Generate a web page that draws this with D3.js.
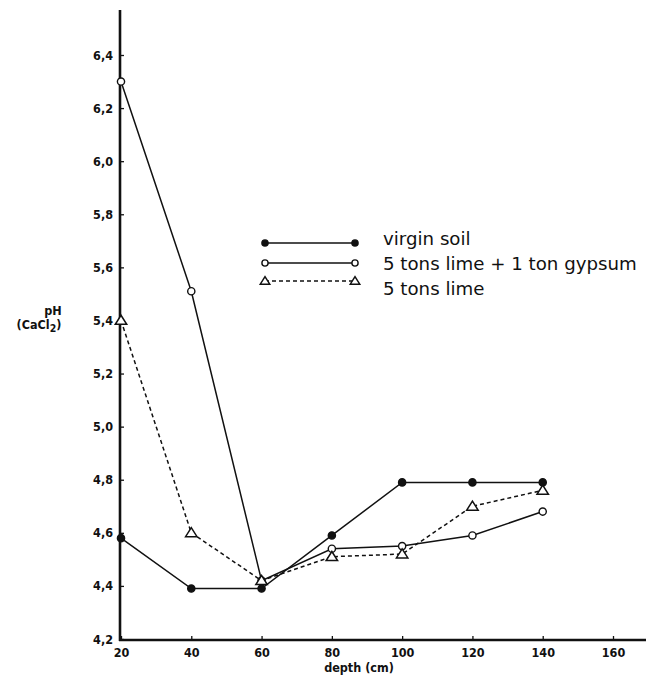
<!DOCTYPE html>
<html>
<head>
<meta charset="utf-8">
<script src="https://cdn.jsdelivr.net/npm/d3@7"></script>
<style>
  html, body { margin: 0; padding: 0; background: #fff; }
  svg { display: block; }
  .tick text { font-family: "DejaVu Sans Condensed", "DejaVu Sans", sans-serif; font-weight: bold; font-size: 12.5px; fill: #111; }
</style>
</head>
<body>
<script>
// Soil pH (CaCl2) by depth under three treatments
const depths = [20, 40, 60, 80, 100, 120, 140];
const virginSoil = [4.58, 4.39, 4.39, 4.59, 4.79, 4.79, 4.79];
const limeGypsum = [6.30, 5.51, 4.42, 4.54, 4.55, 4.59, 4.68];
const limeOnly = [5.40, 4.60, 4.42, 4.51, 4.52, 4.70, 4.76];
const xTicks = [20, 40, 60, 80, 100, 120, 140, 160];
const yTicks = [4.2, 4.4, 4.6, 4.8, 5.0, 5.2, 5.4, 5.6, 5.8, 6.0, 6.2, 6.4];
const seriesNames = ["virgin soil", "5 tons lime + 1 ton gypsum", "5 tons lime"];

const W = 656, H = 683;
const svg = d3.select("body").append("svg").attr("width", W).attr("height", H);

const x = d3.scaleLinear().domain([20, 160]).range([121, 613]);
const y = d3.scaleLinear().domain([4.2, 6.4]).range([639, 55]);
const x0 = 120, yBase = 640;
const ink = "#111";
const comma = v => d3.format(".1f")(v).replace(".", ",");
const labelFont = "DejaVu Sans Condensed, DejaVu Sans, sans-serif";

// axes
const yAxis = svg.append("g").attr("transform", `translate(${x0},0)`)
  .call(d3.axisLeft(y).tickValues(yTicks).tickSizeInner(-4).tickSizeOuter(0).tickPadding(7).tickFormat(comma));
yAxis.select(".domain").remove();
yAxis.selectAll(".tick line").attr("stroke", ink).attr("stroke-width", 1.3);

const xAxis = svg.append("g").attr("transform", `translate(0,${yBase})`)
  .call(d3.axisBottom(x).tickValues(xTicks).tickSizeInner(-4).tickSizeOuter(0).tickPadding(8).tickFormat(d3.format("d")));
xAxis.select(".domain").remove();
xAxis.selectAll(".tick line").attr("stroke", ink).attr("stroke-width", 1.3);

svg.append("line").attr("x1", x0).attr("x2", x0).attr("y1", 10).attr("y2", yBase + 1)
  .attr("stroke", ink).attr("stroke-width", 2.6);
svg.append("line").attr("x1", x0 - 1).attr("x2", 646).attr("y1", yBase).attr("y2", yBase)
  .attr("stroke", ink).attr("stroke-width", 2.6);

// axis titles
svg.append("text").attr("x", 359).attr("y", 672).attr("text-anchor", "middle")
  .style("font-family", labelFont).style("font-weight", "bold")
  .style("font-size", "12.5px").attr("fill", ink).text("depth (cm)");
const yt = svg.append("text").attr("text-anchor", "middle")
  .style("font-family", labelFont).style("font-weight", "bold")
  .style("font-size", "12.5px").attr("fill", ink);
yt.append("tspan").attr("x", 53).attr("y", 315).text("pH");
const t2 = yt.append("tspan").attr("x", 39).attr("y", 329).text("(CaCl");
t2.append("tspan").attr("dy", 3).style("font-size", "10.5px").text("2");
t2.append("tspan").attr("dy", -3).text(")");

// series
const line = d3.line().x((d, i) => x(depths[i])).y(d => y(d));
const series = [
  { name: seriesNames[0], values: virginSoil, dash: null, marker: "filled" },
  { name: seriesNames[1], values: limeGypsum, dash: null, marker: "open" },
  { name: seriesNames[2], values: limeOnly, dash: "4,3", marker: "triangle" }
];

function marker(g, kind, cx, cy, big) {
  if (kind === "triangle") {
    const s = big ? 5.2 : 4.3;
    g.append("path")
      .attr("d", `M${cx},${cy - s} L${cx + s * 1.1},${cy + s * 0.75} L${cx - s * 1.1},${cy + s * 0.75} Z`)
      .attr("fill", "#fff").attr("stroke", ink).attr("stroke-width", 1.5);
  } else {
    g.append("circle").attr("cx", cx).attr("cy", cy).attr("r", big ? 3.6 : 3.1)
      .attr("fill", kind === "filled" ? ink : "#fff").attr("stroke", ink).attr("stroke-width", 1.4);
  }
}

series.forEach(s => {
  const g = svg.append("g");
  g.append("path").attr("d", line(s.values)).attr("fill", "none").attr("stroke", ink)
    .attr("stroke-width", 1.5).attr("stroke-dasharray", s.dash);
  s.values.forEach((v, i) => marker(g, s.marker, x(depths[i]), y(v), true));
});

// legend
const lx1 = 265, lx2 = 355, ly = [243, 263, 281], tb = [245, 270, 295];
series.forEach((s, i) => {
  const g = svg.append("g");
  g.append("line").attr("x1", lx1).attr("x2", lx2).attr("y1", ly[i]).attr("y2", ly[i])
    .attr("stroke", ink).attr("stroke-width", 1.5).attr("stroke-dasharray", s.dash);
  marker(g, s.marker, lx1, ly[i], false);
  marker(g, s.marker, lx2, ly[i], false);
  g.append("text").attr("x", 383).attr("y", tb[i])
    .style("font-family", "DejaVu Sans, sans-serif").style("font-size", "18.2px")
    .attr("fill", ink).text(s.name);
});
</script>
</body>
</html>
